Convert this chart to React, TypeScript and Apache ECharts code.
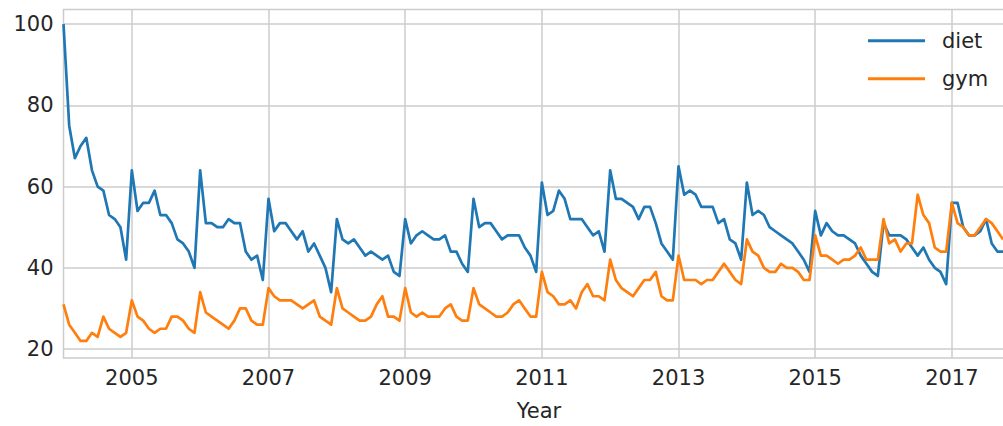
import React, { useEffect, useRef } from "react";
import * as echarts from "echarts";

// Monthly series starting 2004-01
const startYear = 2004;
const tickYears = [2005, 2007, 2009, 2011, 2013, 2015, 2017];
const yTicks = [20, 40, 60, 80, 100];
const seriesNames = ["diet", "gym"];

const diet = [
  100, 75, 67, 70, 72, 64, 60, 59, 53, 52, 50, 42,
  64, 54, 56, 56, 59, 53, 53, 51, 47, 46, 44, 40,
  64, 51, 51, 50, 50, 52, 51, 51, 44, 42, 43, 37,
  57, 49, 51, 51, 49, 47, 49, 44, 46, 43, 40, 34,
  52, 47, 46, 47, 45, 43, 44, 43, 42, 43, 39, 38,
  52, 46, 48, 49, 48, 47, 47, 48, 44, 44, 41, 39,
  57, 50, 51, 51, 49, 47, 48, 48, 48, 45, 43, 39,
  61, 53, 54, 59, 57, 52, 52, 52, 50, 48, 49, 44,
  64, 57, 57, 56, 55, 52, 55, 55, 51, 46, 44, 42,
  65, 58, 59, 58, 55, 55, 55, 51, 52, 47, 46, 42,
  61, 53, 54, 53, 50, 49, 48, 47, 46, 44, 42, 39,
  54, 48, 51, 49, 48, 48, 47, 46, 43, 41, 39, 38,
  51, 48, 48, 48, 47, 45, 43, 45, 42, 40, 39, 36,
  56, 56, 50, 48, 48, 49, 52, 46, 44, 44,
];

const gym = [
  31, 26, 24, 22, 22, 24, 23, 28, 25, 24, 23, 24,
  32, 28, 27, 25, 24, 25, 25, 28, 28, 27, 25, 24,
  34, 29, 28, 27, 26, 25, 27, 30, 30, 27, 26, 26,
  35, 33, 32, 32, 32, 31, 30, 31, 32, 28, 27, 26,
  35, 30, 29, 28, 27, 27, 28, 31, 33, 28, 28, 27,
  35, 29, 28, 29, 28, 28, 28, 30, 31, 28, 27, 27,
  35, 31, 30, 29, 28, 28, 29, 31, 32, 30, 28, 28,
  39, 34, 33, 31, 31, 32, 30, 34, 36, 33, 33, 32,
  42, 37, 35, 34, 33, 35, 37, 37, 39, 33, 32, 32,
  43, 37, 37, 37, 36, 37, 37, 39, 41, 39, 37, 36,
  47, 44, 43, 40, 39, 39, 41, 40, 40, 39, 37, 37,
  48, 43, 43, 42, 41, 42, 42, 43, 45, 42, 42, 42,
  52, 46, 47, 44, 46, 46, 58, 53, 51, 45, 44, 44,
  56, 51, 50, 48, 48, 50, 52, 51, 49, 47,
];

const colors = ["#1f77b4", "#ff7f0e"];

export default function App() {
  const ref = useRef<HTMLDivElement>(null);

  useEffect(() => {
    if (!ref.current) return;
    const chart = echarts.init(ref.current, null, { renderer: "svg" });
    const tickMonths = tickYears.map((y) => (y - startYear) * 12);
    const font = "DejaVu Sans";
    const gridColor = "#cccccc";
    const textColor = "#262626";
    const lastMonth = 167; // axis spans 2004-01 .. 2017-12 (cropped on the right)

    chart.setOption({
      animation: false,
      backgroundColor: "#ffffff",
      grid: {
        left: 63.5,
        right: 5.5,
        top: 9.5,
        bottom: 61,
        show: true,
        borderColor: gridColor,
        borderWidth: 1.5,
        backgroundColor: "transparent",
      },
      legend: {
        show: true,
        orient: "vertical",
        left: 863,
        top: 20.7,
        icon: "rect",
        itemWidth: 57,
        itemHeight: 3,
        itemGap: 8,
        data: seriesNames,
        textStyle: {
          fontFamily: font,
          fontSize: 21,
          color: textColor,
          lineHeight: 24,
          padding: [6, 0, 0, 12],
        },
      },
      xAxis: {
        type: "value",
        min: 0,
        max: lastMonth,
        name: "Year",
        nameLocation: "middle",
        nameGap: 42,
        nameTextStyle: { fontFamily: font, fontSize: 21, color: textColor },
        axisLine: { show: false },
        axisTick: { show: false, customValues: tickMonths },
        axisLabel: {
          customValues: tickMonths,
          fontFamily: font,
          fontSize: 21,
          color: textColor,
          margin: 9,
          formatter: (v: number) => String(startYear + Math.round(v / 12)),
        },
        splitLine: { show: true, lineStyle: { color: gridColor, width: 1.5 } },
      },
      yAxis: {
        type: "value",
        min: 17.8,
        max: 103.6,
        axisLine: { show: false },
        axisTick: { show: false, customValues: yTicks },
        axisLabel: {
          customValues: yTicks,
          fontFamily: font,
          fontSize: 21,
          color: textColor,
          margin: 10,
        },
        splitLine: { show: true, lineStyle: { color: gridColor, width: 1.5 } },
      },
      series: [
        {
          name: seriesNames[0],
          type: "line",
          data: diet.map((v, i) => [i, v]),
          symbol: "none",
          showSymbol: false,
          color: colors[0],
          itemStyle: { color: colors[0] },
          lineStyle: { color: colors[0], width: 2.7, join: "round", cap: "butt" },
        },
        {
          name: seriesNames[1],
          type: "line",
          data: gym.map((v, i) => [i, v]),
          symbol: "none",
          showSymbol: false,
          color: colors[1],
          itemStyle: { color: colors[1] },
          lineStyle: { color: colors[1], width: 2.7, join: "round", cap: "butt" },
        },
      ],
    });

    return () => chart.dispose();
  }, []);

  return (
    <div
      style={{
        position: "fixed",
        left: 0,
        top: 0,
        width: 1003,
        height: 426,
        overflow: "hidden",
        background: "#ffffff",
      }}
    >
      <div ref={ref} style={{ width: 1020, height: 426 }} />
    </div>
  );
}
